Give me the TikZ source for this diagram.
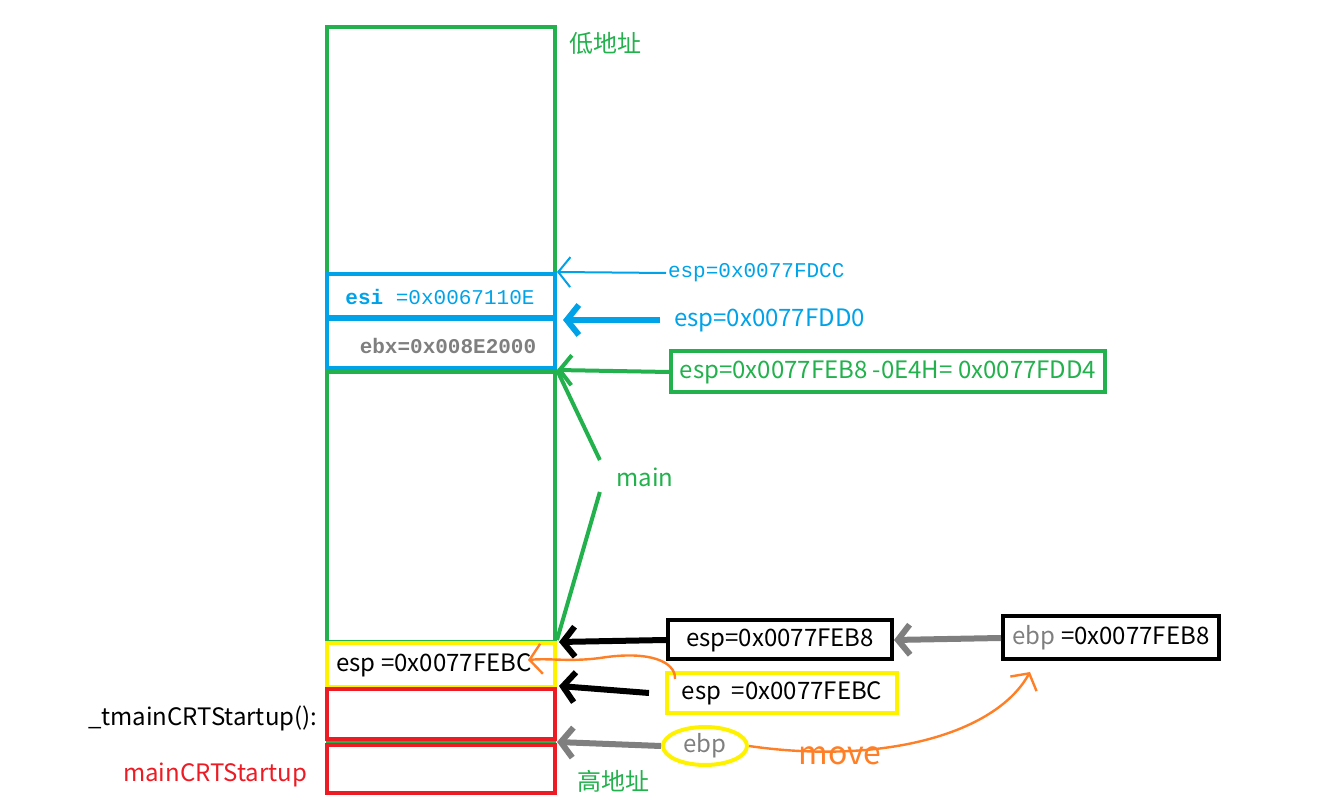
\documentclass[tikz,border=0pt]{standalone}
\usepackage{fontspec}
\setmainfont{Noto Sans CJK SC}
\newfontfamily\songti{Liberation Mono}
\usepackage{tikz}
\usetikzlibrary{arrows.meta,positioning,shapes.geometric,calc}
\definecolor{cgreen}{RGB}{34,177,76}
\definecolor{cblue}{RGB}{0,162,232}
\definecolor{cred}{RGB}{237,28,36}
\definecolor{cyellow}{RGB}{255,242,0}
\definecolor{cgray}{RGB}{127,127,127}
\definecolor{corange}{RGB}{255,127,39}

\begin{document}
\begin{tikzpicture}[x=0.5pt, y=-0.5pt, line width=2pt,
    font=\fontsize{12}{14}\selectfont,
    regbox/.style={draw, line width=2pt, inner sep=2pt},
    barb/.style={-{Straight Barb[length=6pt, width=15pt]}},
    mono/.style={font=\songti\fontsize{10.5}{12}\selectfont}]
    \useasboundingbox (0,0) rectangle (1330,812);

    % stack
    \draw[cgreen, line width=0.6pt] (327,642) rectangle (555,794);
    \draw[cgreen, line width=0.6pt] (327,742) -- (555,742);
    \draw[cgreen] (327,27) rectangle (555,642);
    \draw[cgreen] (327,372) -- (555,372);
    \draw[cblue] (327,274) rectangle (555,368);
    \draw[cblue, line width=3pt] (327,318) -- (555,318);
    \draw[cyellow] (327,643) rectangle (555,687);
    \draw[cred] (327,689) rectangle (555,739);
    \draw[cred] (327,745) rectangle (555,793);

    \coordinate (pFDCC) at (557,272);
    \coordinate (pFDD0) at (563,320);
    \coordinate (pFDD4) at (557,370);
    \coordinate (pFEB8) at (559,642);
    \coordinate (pFEBC) at (559,686);
    \coordinate (pebp) at (557,742);

    \node[cgreen] (low) at (605,43) {低地址};
    \node[cgreen] (high) at (613,781) {高地址};
    \node[mono, cblue] (esi) at (440,297) {{\bfseries esi} =0x0067110E};
    \node[mono, cgray, font=\songti\bfseries\fontsize{10.5}{12}\selectfont] (ebx) at (448,346) {ebx=0x008E2000};
    \node (espin) at (434,665) {esp =0x0077FEBC};
    \node[anchor=east] (tmain) at (326,718) {\_tmainCRTStartup():};
    \node[cred] (crt) at (215,775) {mainCRTStartup};

    % esp labels
    \node[mono, cblue, anchor=west, inner sep=0pt] (espFDCC) at (666,273) {esp=0x0077FDCC};
    \node[cblue, anchor=west, inner sep=0pt] (espFDD0) at (672,320) {esp=0x0077FDD0};
    \node[regbox, cgreen, minimum width=217pt, minimum height=20.5pt] (espFDD4) at (888,372)
        {esp=0x0077FEB8 -0E4H= 0x0077FDD4};
    \node[cgreen] (mainlbl) at (645,477) {main};
    \node[regbox, minimum width=112pt, minimum height=19.5pt] (espFEB8) at (780,640) {esp=0x0077FEB8};
    \node[regbox, cyellow, text=black, minimum width=115pt, minimum height=20pt] (espFEBC) at (782,693)
        {esp\ \ =0x0077FEBC};
    \node[regbox, minimum width=108pt, minimum height=21.5pt] (ebpval) at (1111,638)
        {\textcolor{cgray}{ebp} =0x0077FEB8};
    \node[ellipse, draw=cyellow, line width=2pt, text=cgray, minimum width=42pt, minimum height=19pt,
        inner sep=0pt] (ebpmark) at (705,746) {ebp};
    \node[corange, font=\fontsize{16}{18}\selectfont] (move) at (840,756) {move};

    % arrows
    \draw[cblue, line width=1pt, barb] (espFDCC.west) -- (pFDCC);
    \draw[cblue, line width=3pt, barb] ([xshift=-6pt]espFDD0.west) -- (pFDD0);
    \draw[cgreen, barb] (espFDD4.west) -- (pFDD4);
    \draw[cgreen] ($(mainlbl.west)+(-8,-17)$) -- (pFDD4);
    \draw[cgreen] ($(mainlbl.west)+(-8,15)$) -- (557,640);
    \draw[line width=3pt, barb] (espFEB8.west) -- (pFEB8);
    \draw[line width=3pt, barb] ([xshift=-8pt]espFEBC.west) -- (pFEBC);
    \draw[cgray, line width=3pt, barb] (ebpval.west) -- (espFEB8.east);
    \draw[cgray, line width=3pt, barb] (ebpmark.west) -- (pebp);
    \draw[corange, line width=1.2pt, barb] ([xshift=5pt,yshift=-4pt]espFEBC.north west)
        .. controls (676,662) and (650,650) .. (600,658)
        .. controls (570,662) and (550,658) .. (528,660);
    \draw[corange, line width=1.2pt, barb] (ebpmark.east)
        .. controls (880,765) and (995,735) .. (1030,672);
\end{tikzpicture}
\end{document}
